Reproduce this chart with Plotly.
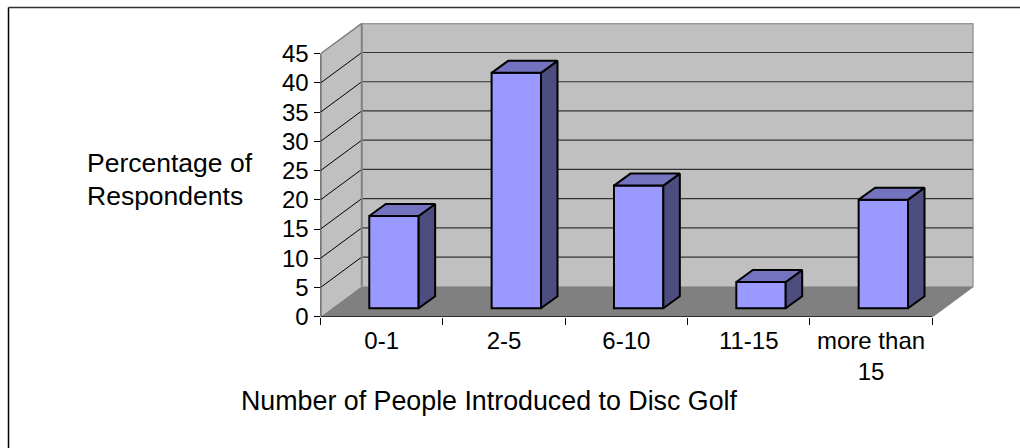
import plotly.graph_objects as go

categories = ["0-1", "2-5", "6-10", "11-15", "more than<br>15"]
values = [15.8, 40.3, 21, 4.5, 18.6]
y_ticks = [0, 5, 10, 15, 20, 25, 30, 35, 40, 45]

W, H = 1020, 448
PX_L, PX_R, PX_T, PX_B = 320.5, 973.5, 23.3, 316.7  # plot box in page pixels
CAT_PX = 122.4
VAL_PX = 5.853
WALL_DX = 41.3 / CAT_PX
WALL_DY = 30.5 / VAL_PX
BAR_W = 49.4 / CAT_PX
BAR_X = 12.3 / CAT_PX
BAR_BASE = 8.4 / VAL_PX
BAR_DX = 16.5 / CAT_PX
BAR_DY = 12.0 / VAL_PX

x0, x1 = -0.5, len(categories) - 0.5
y1 = y_ticks[-1]
xs = list(range(len(categories)))

fig = go.Figure()

def poly(pts, fill, line=None, lw=0):
    path = "M " + " L ".join(f"{a},{b}" for a, b in pts) + " Z"
    return dict(type="path", path=path, xref="x", yref="y", layer="below",
                fillcolor=fill, line=dict(color=line or fill, width=lw))

def seg(a, b, c, d, color, lw):
    return dict(type="line", x0=a, y0=b, x1=c, y1=d, xref="x", yref="y",
                layer="below", line=dict(color=color, width=lw))

shapes = [
    poly([(x0 + WALL_DX, WALL_DY), (x1 + WALL_DX, WALL_DY), (x1 + WALL_DX, y1 + WALL_DY), (x0 + WALL_DX, y1 + WALL_DY)], "#C0C0C0"),
    poly([(x0, 0), (x0 + WALL_DX, WALL_DY), (x0 + WALL_DX, y1 + WALL_DY), (x0, y1)], "#C0C0C0"),
    poly([(x0, 0), (x1, 0), (x1 + WALL_DX, WALL_DY), (x0 + WALL_DX, WALL_DY)], "#808080"),
]
for t in y_ticks[1:-1]:
    shapes.append(seg(x0 + WALL_DX, t + WALL_DY, x1 + WALL_DX, t + WALL_DY, "#333333", 1.2))
    shapes.append(seg(x0, t, x0 + WALL_DX, t + WALL_DY, "#000000", 1))
shapes += [
    seg(x0 + WALL_DX, y1 + WALL_DY, x1 + WALL_DX, y1 + WALL_DY, "#808080", 2),
    seg(x0 + WALL_DX, WALL_DY, x0 + WALL_DX, y1 + WALL_DY, "#808080", 2),
    seg(x1 + WALL_DX, WALL_DY, x1 + WALL_DX, y1 + WALL_DY, "#808080", 2),
    seg(x0, y1, x0 + WALL_DX, y1 + WALL_DY, "#808080", 1.5),
    seg(x1, 0, x1 + WALL_DX, WALL_DY, "#808080", 1.5),
    seg(x0, 0, x0, y1, "#000000", 1.5),
    seg(x0, 0, x1, 0, "#000000", 1.5),
    dict(type="line", xref="paper", yref="paper", x0=8.5 / W, x1=1, y0=1 - 7.5 / H, y1=1 - 7.5 / H,
         line=dict(color="#333333", width=1.5)),
    dict(type="line", xref="paper", yref="paper", x0=8.5 / W, x1=8.5 / W, y0=0, y1=1 - 7.5 / H,
         line=dict(color="#000000", width=1.5)),
]

fig.add_trace(go.Bar(
    x=[i + BAR_X for i in xs], y=values, base=BAR_BASE, width=BAR_W,
    marker=dict(color="#9999FF", line=dict(color="#000000", width=2)),
    showlegend=False, hoverinfo="skip",
))

for i, v in zip(xs, values):
    left = i + BAR_X - BAR_W / 2
    right = i + BAR_X + BAR_W / 2
    bot = BAR_BASE
    top = BAR_BASE + v
    fig.add_trace(go.Scatter(
        x=[right, right + BAR_DX, right + BAR_DX, right, right],
        y=[bot, bot + BAR_DY, top + BAR_DY, top, bot],
        mode="lines", fill="toself", fillcolor="#4D4D80",
        line=dict(color="#000000", width=2), showlegend=False, hoverinfo="skip"))
    fig.add_trace(go.Scatter(
        x=[left, left + BAR_DX, right + BAR_DX, right, left],
        y=[top, top + BAR_DY, top + BAR_DY, top, top],
        mode="lines", fill="toself", fillcolor="#7373BF",
        line=dict(color="#000000", width=2), showlegend=False, hoverinfo="skip"))

FAMILY = "Liberation Sans, Arial, sans-serif"
TITLE_FONT = dict(family=FAMILY, size=26.8, color="#000000")
LEFT_FONT = dict(family=FAMILY, size=26.5, color="#000000")
TICK_FONT = dict(family=FAMILY, size=24, color="#000000")

fig.update_layout(
    width=W, height=H, margin=dict(l=0, r=0, t=0, b=0),
    paper_bgcolor="#FFFFFF", plot_bgcolor="rgba(0,0,0,0)",
    font=TICK_FONT, showlegend=False, shapes=shapes,
    xaxis=dict(
        automargin=False,
        domain=[PX_L / W, PX_R / W], range=[x0, x1 + WALL_DX],
        tickmode="array", tickvals=xs, ticktext=categories, ticks="",
        showgrid=False, zeroline=False, showline=False, ticklabelstandoff=7,
        minor=dict(tickmode="array", tickvals=[i - 0.5 for i in range(len(categories) + 1)],
                   ticks="outside", ticklen=7, tickwidth=1, tickcolor="#000000", showgrid=False),
        tickfont=TICK_FONT,
    ),
    yaxis=dict(
        automargin=False,
        domain=[1 - PX_B / H, 1 - PX_T / H], range=[0, y1 + WALL_DY],
        tickmode="array", tickvals=y_ticks, ticks="outside", ticklen=6, tickwidth=1,
        tickcolor="#000000", showgrid=False, zeroline=False, showline=False, tickfont=TICK_FONT,
    ),
    annotations=[
        dict(text="Percentage of", xref="paper", yref="paper", x=84.5 / W, y=1 - 163 / H,
             xanchor="left", yanchor="middle", showarrow=False, font=LEFT_FONT),
        dict(text="Respondents", xref="paper", yref="paper", x=84.5 / W, y=1 - 196 / H,
             xanchor="left", yanchor="middle", showarrow=False, font=LEFT_FONT),
        dict(text="Number of People Introduced to Disc Golf", xref="paper", yref="paper",
             x=489 / W, y=1 - 401 / H, xanchor="center", yanchor="middle", showarrow=False, font=TITLE_FONT),
    ],
)

fig.write_html("out.html", config=dict(displayModeBar=False),
               post_script="document.body.style.margin='0';")
